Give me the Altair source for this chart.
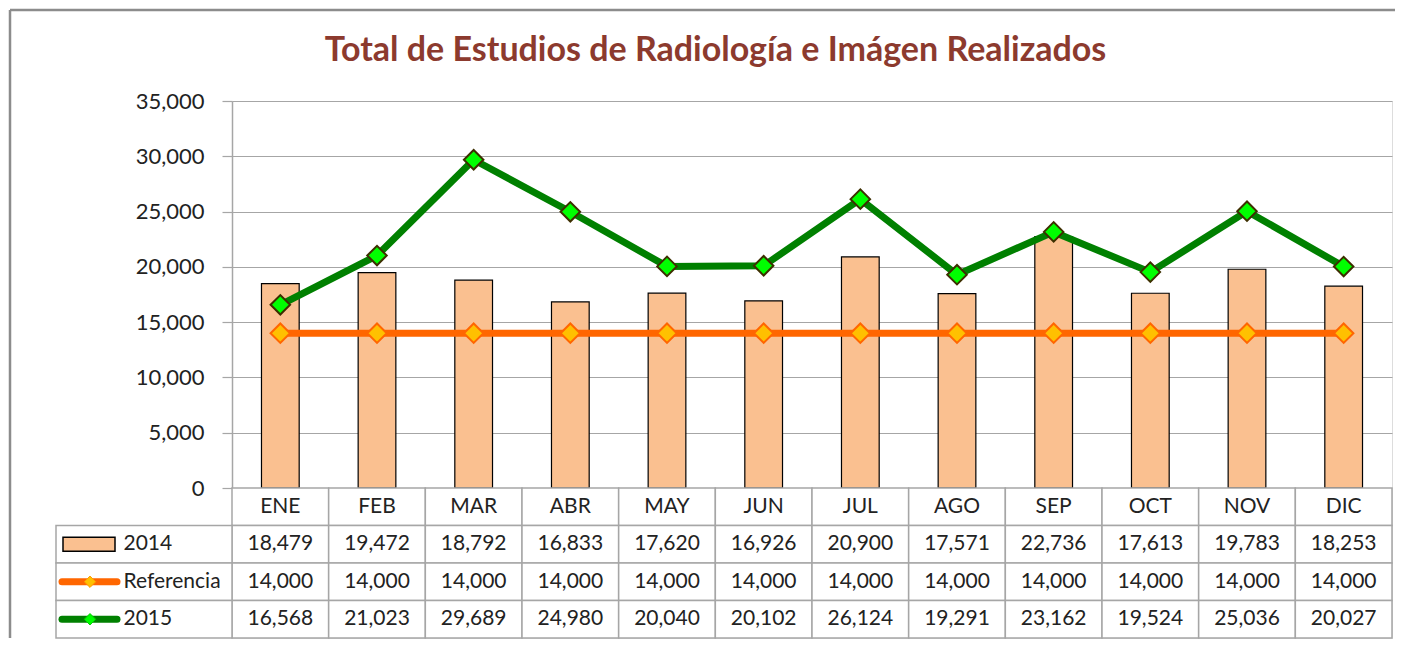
import altair as alt
import pandas as pd

months = ["ENE", "FEB", "MAR", "ABR", "MAY", "JUN", "JUL", "AGO", "SEP", "OCT", "NOV", "DIC"]
v2014 = [18479, 19472, 18792, 16833, 17620, 16926, 20900, 17571, 22736, 17613, 19783, 18253]
vref = [14000] * 12
v2015 = [16568, 21023, 29689, 24980, 20040, 20102, 26124, 19291, 23162, 19524, 25036, 20027]
y_ticks = [0, 5000, 10000, 15000, 20000, 25000, 30000, 35000]
row_names = ["MES", "2014", "Referencia", "2015"]
title_text = "Total de Estudios de Radiología e Imágen Realizados"

GRID = "#A6A6A6"
FRAME = "#8C8C8C"
FONT = "Lato"
W, H, TH = 1160, 387, 150

df = pd.DataFrame({"mes": months, "v2014": v2014, "ref": vref, "v2015": v2015})

xenc = alt.X("mes:N", sort=months, axis=None,
             scale=alt.Scale(domain=months, paddingInner=0, paddingOuter=0))
yscale = alt.Scale(domain=[0, 35000], nice=False)
yaxis = alt.Axis(values=y_ticks, format=",.0f", tickSize=10, tickColor=GRID,
                 domainColor=GRID, gridColor=GRID, gridWidth=1.2,
                 domainWidth=1.5, tickWidth=1.2,
                 labelFont=FONT, labelFontSize=22, labelColor="#222222",
                 labelPadding=18)


def yenc(field):
    return alt.Y(f"{field}:Q", scale=yscale, title=None, axis=yaxis)


base = alt.Chart(df)

bars = base.mark_bar(width=alt.RelativeBandSize(0.39), fill="#FAC090",
                     stroke="#000000", strokeWidth=1.2).encode(x=xenc, y=yenc("v2014"))

ref_line = base.mark_line(color="#FF6600", strokeWidth=7, strokeJoin="round").encode(
    x=xenc, y=yenc("ref"))
ref_pts = base.mark_point(shape="diamond", size=380, filled=True, fill="#FFC000",
                          stroke="#FF6600", strokeWidth=2, opacity=1).encode(
    x=xenc, y=yenc("ref"))
l15 = base.mark_line(color="#008000", strokeWidth=7, strokeJoin="round").encode(
    x=xenc, y=yenc("v2015"))
p15 = base.mark_point(shape="diamond", size=380, filled=True, fill="#00FF00",
                      stroke="#3D2F00", strokeWidth=2, opacity=1).encode(
    x=xenc, y=yenc("v2015"))

# chart-area frame (decoration, like the spreadsheet chart border)
one = alt.Chart(pd.DataFrame({"k": [0]}))
frame_left = one.mark_rule(color=FRAME, strokeWidth=2.5).encode(
    x=alt.value(-222), y=alt.value(-91), y2=alt.value(H + 150))
frame_top = one.mark_rule(color=FRAME, strokeWidth=2.5).encode(
    x=alt.value(-222), x2=alt.value(W + 3), y=alt.value(-91), y2=alt.value(-91))

top = alt.layer(bars, ref_line, ref_pts, l15, p15, frame_left, frame_top).properties(
    width=W, height=H)

# ---- data table ----
rows = []
for i, m in enumerate(months):
    rows.append({"mes": m, "fila": "MES", "txt": m})
    rows.append({"mes": m, "fila": "2014", "txt": f"{v2014[i]:,}"})
    rows.append({"mes": m, "fila": "Referencia", "txt": f"{vref[i]:,}"})
    rows.append({"mes": m, "fila": "2015", "txt": f"{v2015[i]:,}"})
tdf = pd.DataFrame(rows)
ldf = pd.DataFrame({"fila": row_names[1:]})

yrow = alt.Y("fila:N", sort=row_names,
             scale=alt.Scale(domain=row_names, paddingInner=0, paddingOuter=0),
             title=None,
             axis=alt.Axis(labelAlign="left", labelPadding=109, ticks=False, domain=False,
                           labelFont=FONT, labelFontSize=21, labelColor="#222222",
                           labelExpr="datum.value == 'MES' ? '' : datum.value"))

cells = alt.Chart(tdf).mark_rect(fill="white", stroke=GRID, strokeWidth=1.5).encode(
    x=alt.X("mes:N", sort=months, axis=None,
            scale=alt.Scale(domain=months, paddingInner=0, paddingOuter=0)),
    y=yrow)
texts = alt.Chart(tdf).mark_text(font=FONT, fontSize=21, color="#222222").encode(
    x=alt.X("mes:N", sort=months), y=alt.Y("fila:N", sort=row_names), text="txt:N")

leg_cells = alt.Chart(ldf).mark_rect(fill="white", stroke=GRID, strokeWidth=1.5).encode(
    x=alt.value(-176), x2=alt.value(0), y=alt.Y("fila:N", sort=row_names))

g14 = alt.Chart(ldf).transform_filter(alt.datum.fila == "2014").mark_point(
    shape="M-1,-0.27H1V0.27H-1Z", size=2704, filled=True, fill="#FAC090",
    stroke="#000000", strokeWidth=1.5, opacity=1).encode(
    x=alt.value(-143), y=alt.Y("fila:N", sort=row_names))

gref_l = alt.Chart(ldf).transform_filter(alt.datum.fila == "Referencia").mark_rule(
    color="#FF6600", strokeWidth=7, strokeCap="round").encode(
    x=alt.value(-170), x2=alt.value(-115), y=alt.Y("fila:N", sort=row_names))
gref_p = alt.Chart(ldf).transform_filter(alt.datum.fila == "Referencia").mark_point(
    shape="diamond", size=130, filled=True, fill="#FFC000", stroke="#FF9900",
    strokeWidth=1, opacity=1).encode(
    x=alt.value(-142), y=alt.Y("fila:N", sort=row_names))
g15_l = alt.Chart(ldf).transform_filter(alt.datum.fila == "2015").mark_rule(
    color="#008000", strokeWidth=7, strokeCap="round").encode(
    x=alt.value(-170), x2=alt.value(-115), y=alt.Y("fila:N", sort=row_names))
g15_p = alt.Chart(ldf).transform_filter(alt.datum.fila == "2015").mark_point(
    shape="diamond", size=130, filled=True, fill="#00FF00", stroke="#00CC00",
    strokeWidth=1, opacity=1).encode(
    x=alt.value(-142), y=alt.Y("fila:N", sort=row_names))

table = alt.layer(cells, texts, leg_cells, g14, gref_l, gref_p, g15_l, g15_p).properties(
    width=W, height=TH)

chart = alt.vconcat(top, table, spacing=0, bounds="flush").properties(
    title=alt.Title(title_text, font="Lato", fontSize=34, fontWeight="bold",
                    color="#8C3A2E", anchor="middle",
                    baseline="alphabetic", offset=-87, dx=13),
    padding={"left": 0, "top": 0, "right": 0, "bottom": 0},
).configure_view(stroke=None).configure(background="white")

chart.save("out.html", embed_options={"renderer": "svg", "actions": False})
